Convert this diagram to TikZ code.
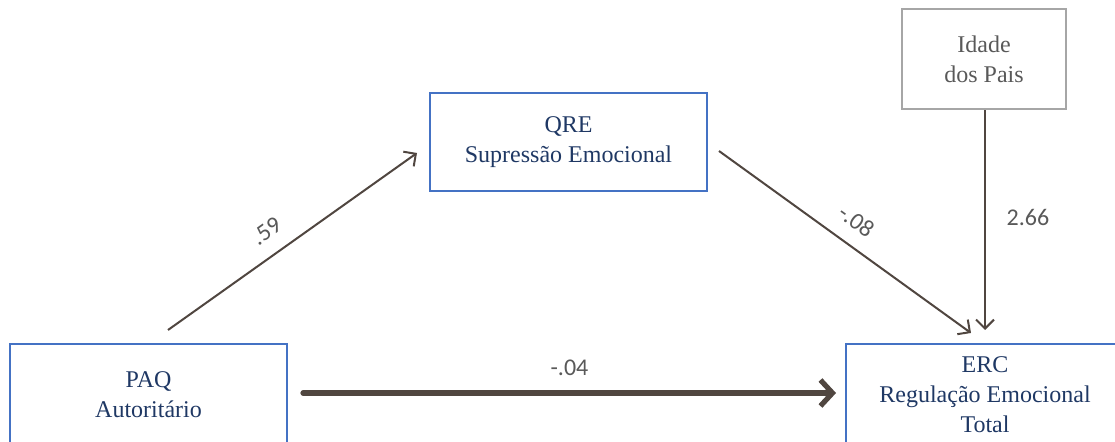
\documentclass[tikz,border=0pt]{standalone}
\usepackage{fontspec}
\setmainfont{Liberation Serif}
\newfontfamily\lblfont{Carlito}
\usetikzlibrary{arrows.meta}
\definecolor{boxblue}{HTML}{4472C4}
\definecolor{navy}{HTML}{1F3864}
\definecolor{arrowc}{RGB}{80,70,64}
\definecolor{lblgray}{HTML}{595959}
\definecolor{boxgray}{HTML}{A6A6A6}
\begin{document}
\begin{tikzpicture}[x=0.5pt,y=-0.5pt,
  varbox/.style={draw=boxblue,line width=1.2pt,text=navy,align=center,
    font=\fontsize{12}{15}\selectfont,inner sep=0pt},
  ctrlbox/.style={varbox,draw=boxgray,text=lblgray},
  link/.style={draw=arrowc,line width=1pt,-{Straight Barb[length=4.5pt,width=9pt]}},
  biglink/.style={draw=arrowc,line width=2.6pt,line cap=round,
    -{Straight Barb[length=6pt,width=13pt]}},
  coef/.style={font=\lblfont\fontsize{12}{14}\selectfont,text=lblgray}
]
\useasboundingbox (0,0) rectangle (1115,442);
\node[varbox,minimum width=138.5pt,minimum height=51pt] (paq) at (148.5,395) {PAQ\\Autoritário};
\node[varbox,minimum width=139pt,minimum height=51pt] (erc) at (985,395) {ERC\\Regulação Emocional\\Total};
\node[varbox,minimum width=138.5pt,minimum height=49pt] (qre) at (568.5,142) {QRE\\Supressão Emocional};
\node[ctrlbox,minimum width=82pt,minimum height=50pt] (idade) at (984,59) {Idade\\dos Pais};

\coordinate (aS) at (168,330);
\coordinate (aE) at (417,153);
\coordinate (bS) at (719,151);
\coordinate (bE) at (971,333);
\coordinate (cE) at (985,330);
\coordinate (dS) at (303,393);
\coordinate (dE) at (836,393);

\draw[link] (aS) -- node[coef,sloped,above=4pt,pos=0.45] (l59) {.59} (aE);
\draw[link] (bS) -- node[coef,sloped,above=4pt,pos=0.49] (l08) {-.08} (bE);
\draw[link] (idade.south -| cE) -- node[coef,right=7pt,pos=0.49] (l266) {2.66} (cE);
\draw[biglink] (dS) -- node[coef,above=4pt,pos=0.5] (l04) {-.04} (dE);
\end{tikzpicture}
\end{document}
